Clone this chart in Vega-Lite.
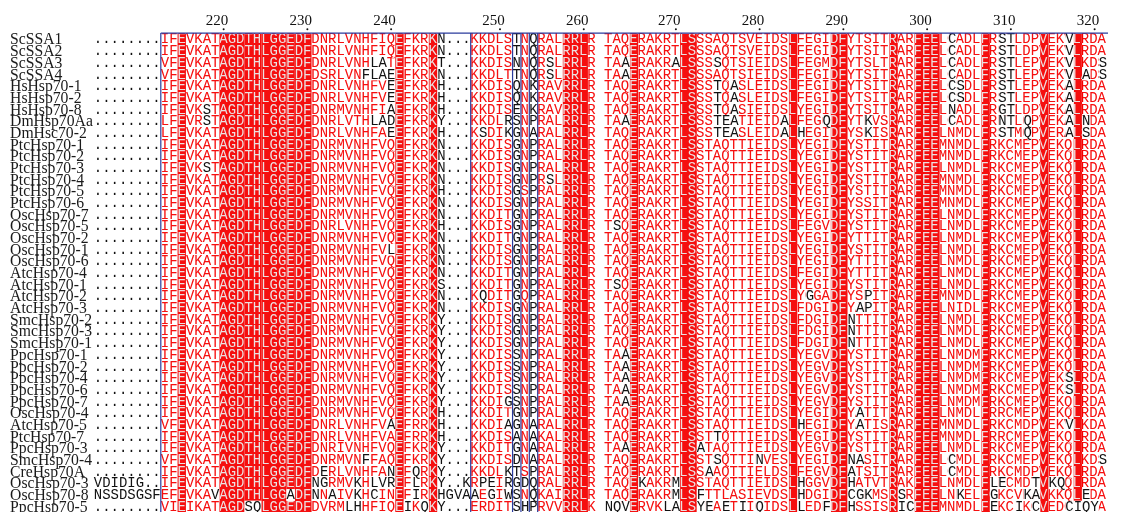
{
"$schema": "https://vega.github.io/schema/vega-lite/v6.json",
"width": 1122, "height": 512, "autosize": {"type": "none"}, "padding": 0,
"background": "white",
"config": {"view": {"stroke": null}},
"datasets": {
"rows": [
{"r":0,"name":"ScSSA1","pre":"........","seq":"IFEVKATAGDTHLGGEDFDNRLVNHFIQEFKRK\u00a0\u00a0\u00a0\u00a0KKDLS\u00a0N\u00a0RALRRLR\u00a0TAQERAKRTLSSSAQTSVEIDSLFEGIDFYTSITRARFEELCADLFRSTLDPVEKVLRDA","k":"N...\u00a0\u00a0\u00a0\u00a0\u00a0T\u00a0Q"},
{"r":1,"name":"ScSSA2","pre":"........","seq":"IFEVKATAGDTHLGGEDFDNRLVNHFIQEFKRK\u00a0\u00a0\u00a0\u00a0KKDLS\u00a0N\u00a0RALRRLR\u00a0TAQERAKRTLSSSAQTSVEIDSLFEGIDFYTSITRARFEELCADLFRSTLDPVEKVLRDA","k":"N...\u00a0\u00a0\u00a0\u00a0\u00a0T\u00a0Q"},
{"r":2,"name":"ScSSA3","pre":"........","seq":"VFEVKATAGDTHLGGEDFDNRLVNHLATEFKRK\u00a0\u00a0\u00a0\u00a0KKDIS\u00a0N\u00a0RSLRRLR\u00a0TAAERAKRALSSSSQTSIEIDSLFEGMDFYTSLTRARFEELCADLFRSTLEPVEKVLKDS","k":"T...\u00a0\u00a0\u00a0\u00a0\u00a0N\u00a0Q"},
{"r":3,"name":"ScSSA4","pre":"........","seq":"VFEVKATAGDTHLGGEDFDSRLVNFLAEEFKRK\u00a0\u00a0\u00a0\u00a0KKDLT\u00a0N\u00a0RSLRRLR\u00a0TAAERAKRTLSSSAQTSIEIDSLFEGIDFYTSITRARFEELCADLFRSTLEPVEKVLADS","k":"N...\u00a0\u00a0\u00a0\u00a0\u00a0T\u00a0Q"},
{"r":4,"name":"HsHsp70-1","pre":"........","seq":"IFEVKATAGDTHLGGEDFDNRLVNHFVEEFKRK\u00a0\u00a0\u00a0\u00a0KKDIS\u00a0N\u00a0RAVRRLR\u00a0TAQERAKRTLSSSTQASLEIDSLFEGIDFYTSITRARFEELCSDLFRSTLEPVEKALRDA","k":"H...\u00a0\u00a0\u00a0\u00a0\u00a0Q\u00a0K"},
{"r":5,"name":"HsHsp70-2","pre":"........","seq":"IFEVKATAGDTHLGGEDFDNRLVNHFVEEFKRK\u00a0\u00a0\u00a0\u00a0KKDIS\u00a0N\u00a0RAVRRLR\u00a0TAQERAKRTLSSSTQASLEIDSLFEGIDFYTSITRARFEELCSDLFRSTLEPVEKALRDA","k":"H...\u00a0\u00a0\u00a0\u00a0\u00a0Q\u00a0K"},
{"r":6,"name":"HsHsp70-8","pre":"........","seq":"IFEVKSTAGDTHLGGEDFDNRMVNHFIAEFKRK\u00a0\u00a0\u00a0\u00a0KKDIS\u00a0N\u00a0RAVRRLR\u00a0TAQERAKRTLSSSTQASIEIDSLYEGIDFYTSITRARFEELNADLFRGTLDPVEKALRDA","k":"H...\u00a0\u00a0\u00a0\u00a0\u00a0E\u00a0K"},
{"r":7,"name":"DmHsp70Aa","pre":"........","seq":"LFEVRSTAGDTHLGGEDFDNRLVTHLADEFKRK\u00a0\u00a0\u00a0\u00a0KKDLR\u00a0N\u00a0RALRRLR\u00a0TAAERAKRTLSSSTEATIEIDALFEGQDFYTKVSRARFEELCADLFRNTLQPVEKALNDA","k":"Y...\u00a0\u00a0\u00a0\u00a0\u00a0S\u00a0P"},
{"r":8,"name":"DmHsc70-2","pre":"........","seq":"LFEVKATAGDTHLGGEDFDNRLVNHFAEEFKRK\u00a0\u00a0\u00a0\u00a0KSDIK\u00a0N\u00a0RALRRLR\u00a0TAQERAKRTLSSSTEASLEIDALHEGIDFYSKISRARFEELNMDLFRSTMQPVERALSDA","k":"H...\u00a0\u00a0\u00a0\u00a0\u00a0G\u00a0A"},
{"r":9,"name":"PtcHsp70-1","pre":"........","seq":"IFEVKATAGDTHLGGEDFDNRMVNHFVQEFKRK\u00a0\u00a0\u00a0\u00a0KKDIS\u00a0N\u00a0RALRRLR\u00a0TAQERAKRTLSSTAQTTIEIDSLYEGIDFYSTITRARFEEMNMDLFRKCMEPVEKQLRDA","k":"N...\u00a0\u00a0\u00a0\u00a0\u00a0G\u00a0P"},
{"r":10,"name":"PtcHsp70-2","pre":"........","seq":"IFEVKATAGDTHLGGEDFDNRMVNHFVQEFKRK\u00a0\u00a0\u00a0\u00a0KKDIS\u00a0N\u00a0RALRRLR\u00a0TAQERAKRTLSSTAQTTIEIDSLYEGIDFYSTITRARFEEMNMDLFRKCMEPVEKQLRDA","k":"N...\u00a0\u00a0\u00a0\u00a0\u00a0G\u00a0P"},
{"r":11,"name":"PtcHsp70-3","pre":"........","seq":"IFEVKSTAGDTHLGGEDFDNRMVNHFVQEFKRK\u00a0\u00a0\u00a0\u00a0KKDIS\u00a0N\u00a0RALRRLR\u00a0TAQERAKRTLSSTAQTTIEIDSLYEGIDFYSTITRARFEELNMDLFRKCMEPVEKQLRDA","k":"N...\u00a0\u00a0\u00a0\u00a0\u00a0G\u00a0P"},
{"r":12,"name":"PtcHsp70-4","pre":"........","seq":"IFEVKATAGDTHLGGEDFDNRMVNHFVQEFKRK\u00a0\u00a0\u00a0\u00a0KKDIS\u00a0N\u00a0RSLRRLR\u00a0TAQERAKRTLSSTAQTTIEIDSLYEGIDFYSTITRARFEEMNMDLFRKCMEPVEKQLRDA","k":"N...\u00a0\u00a0\u00a0\u00a0\u00a0G\u00a0P"},
{"r":13,"name":"PtcHsp70-5","pre":"........","seq":"IFEVKATAGDTHLGGEDFDNRMVNHFVQEFKRK\u00a0\u00a0\u00a0\u00a0KKDIS\u00a0S\u00a0RALRRLR\u00a0TAQERAKRTLSSTAQTTIEIDSLYEGIDFYSTITRARFEEMNMDLFRKCMEPVEKQLRDA","k":"H...\u00a0\u00a0\u00a0\u00a0\u00a0G\u00a0P"},
{"r":14,"name":"PtcHsp70-6","pre":"........","seq":"IFEVKATAGDTHLGGEDFDNRMVNHFVQEFKRK\u00a0\u00a0\u00a0\u00a0KKDIS\u00a0N\u00a0RALRRLR\u00a0TAQERAKRTLSSTAQTTIEIDSLYEGIDFYSSITRARFEEMNMDLFRKCMEPVEKQLRDA","k":"N...\u00a0\u00a0\u00a0\u00a0\u00a0G\u00a0P"},
{"r":15,"name":"OscHsp70-7","pre":"........","seq":"IFEVKATAGDTHLGGEDFDNRMVNHFVQEFKRK\u00a0\u00a0\u00a0\u00a0KKDIT\u00a0N\u00a0RALRRLR\u00a0TAQERAKRTLSSTAQTTIEIDSLYEGIDFYSTITRARFEELNMDLFRKCMEPVEKQLRDA","k":"N...\u00a0\u00a0\u00a0\u00a0\u00a0G\u00a0P"},
{"r":16,"name":"OscHsp70-5","pre":"........","seq":"IFEVKATAGDTHLGGEDFDNRLVNHFVQEFKRK\u00a0\u00a0\u00a0\u00a0KKDIS\u00a0N\u00a0RALRRLR\u00a0TSQERAKRTLSSTAQTTIEIDSLFEGVDFYSTITRARFEELNMDLFRKCMEPVEKQLRDA","k":"H...\u00a0\u00a0\u00a0\u00a0\u00a0G\u00a0P"},
{"r":17,"name":"OscHsp70-2","pre":"........","seq":"IFEVKATAGDTHLGGEDFDNRMVNHFVQEFKRK\u00a0\u00a0\u00a0\u00a0KKDIT\u00a0N\u00a0RALRRLR\u00a0TAQERAKRTLSSTAQTTIEIDSLYEGIDFYTTITRARFEELNMDLFRKCMEPVEKQLRDA","k":"N...\u00a0\u00a0\u00a0\u00a0\u00a0G\u00a0P"},
{"r":18,"name":"OscHsp70-1","pre":"........","seq":"IFEVKATAGDTHLGGEDFDNRMVNHFVLEFKRK\u00a0\u00a0\u00a0\u00a0KKDIS\u00a0N\u00a0RALRRLR\u00a0TAQERAKRTLSSTAQTTIEIDSLYEGIDFYSTITRARFEELNMDLFRKCMEPVEKQLRDA","k":"N...\u00a0\u00a0\u00a0\u00a0\u00a0G\u00a0P"},
{"r":19,"name":"OscHsp70-6","pre":"........","seq":"IFEVKATAGDTHLGGEDFDNRMVNHFVQEFKRK\u00a0\u00a0\u00a0\u00a0KKDIS\u00a0N\u00a0RALRRLR\u00a0TAQERAKRTLSSTAQTTIEIDSLYEGIDFYTTITRARFEELNMDLFRKCMEPVEKQLRDA","k":"N...\u00a0\u00a0\u00a0\u00a0\u00a0G\u00a0P"},
{"r":20,"name":"AtcHsp70-4","pre":"........","seq":"IFEVKATAGDTHLGGEDFDNRMVNHFVQEFKRK\u00a0\u00a0\u00a0\u00a0KKDIT\u00a0N\u00a0RALRRLR\u00a0TAQERAKRTLSSTAQTTIEIDSLFEGIDFYTTITRARFEELNMDLFRKCMEPVEKQLRDA","k":"N...\u00a0\u00a0\u00a0\u00a0\u00a0G\u00a0P"},
{"r":21,"name":"AtcHsp70-1","pre":"........","seq":"IFEVKATAGDTHLGGEDFDNRMVNHFVQEFKRK\u00a0\u00a0\u00a0\u00a0KKDIT\u00a0N\u00a0RALRRLR\u00a0TSQERAKRTLSSTAQTTIEIDSLYEGIDFYSTITRARFEELNMDLFRKCMEPVEKQLRDA","k":"S...\u00a0\u00a0\u00a0\u00a0\u00a0G\u00a0P"},
{"r":22,"name":"AtcHsp70-2","pre":"........","seq":"IFEVKATAGDTHLGGEDFDNRMVNHFVQEFKRK\u00a0\u00a0\u00a0\u00a0KQDIT\u00a0Q\u00a0RALRRLR\u00a0TAQERAKRTLSSTAQTTIEIDSLYGGADFYSPITRARFEEMNMDLFRKCMEPVEKQLRDA","k":"N...\u00a0\u00a0\u00a0\u00a0\u00a0G\u00a0P"},
{"r":23,"name":"AtcHsp70-3","pre":"........","seq":"IFEVKATAGDTHLGGEDFDNRMVNHFVQEFKRK\u00a0\u00a0\u00a0\u00a0KKDIS\u00a0N\u00a0RALRRLR\u00a0TAQERAKRTLSSTAQTTIEIDSLFDGIDFYAPITRARFEELNIDLFRKCMEPVEKQLRDA","k":"N...\u00a0\u00a0\u00a0\u00a0\u00a0G\u00a0P"},
{"r":24,"name":"SmcHsp70-2","pre":"........","seq":"IFEVKATAGDTHLGGEDFDNRMVNHFVQEFKRK\u00a0\u00a0\u00a0\u00a0KKDIS\u00a0N\u00a0RALRRLR\u00a0TAQERAKRTLSSTAQTTIEIDSLFDGIDFNTTITRARFEELNMDLFRKCMEPVEKQLRDA","k":"Y...\u00a0\u00a0\u00a0\u00a0\u00a0G\u00a0P"},
{"r":25,"name":"SmcHsp70-3","pre":"........","seq":"IFEVKATAGDTHLGGEDFDNRMVNHFVQEFKRK\u00a0\u00a0\u00a0\u00a0KKDIS\u00a0N\u00a0RALRRLR\u00a0TAQERAKRTLSSTAQTTIEIDSLFDGIDFNTTITRARFEELNMDLFRKCMEPVEKQLRDA","k":"Y...\u00a0\u00a0\u00a0\u00a0\u00a0G\u00a0P"},
{"r":26,"name":"SmcHsp70-1","pre":"........","seq":"IFEVKATAGDTHLGGEDFDNRMVNHFVQEFKRK\u00a0\u00a0\u00a0\u00a0KKDIS\u00a0N\u00a0RALRRLR\u00a0TAQERAKRTLSSTAQTTIEIDSLFDGIDFNTTITRARFEELNMDLFRKCMEPVEKQLRDA","k":"Y...\u00a0\u00a0\u00a0\u00a0\u00a0G\u00a0P"},
{"r":27,"name":"PpcHsp70-1","pre":"........","seq":"IFEVKATAGDTHLGGEDFDNRMVNHFVQEFKRK\u00a0\u00a0\u00a0\u00a0KKDIS\u00a0N\u00a0RALRRLR\u00a0TAAERAKRTLSSTAQTTIEIDSLYEGVDFYSTITRARFEELNMDMFRKCMEPVEKQLRDA","k":"Y...\u00a0\u00a0\u00a0\u00a0\u00a0S\u00a0P"},
{"r":28,"name":"PpcHsp70-2","pre":"........","seq":"IFEVKATAGDTHLGGEDFDNRMVNHFVQEFKRK\u00a0\u00a0\u00a0\u00a0KKDIS\u00a0N\u00a0RALRRLR\u00a0TAAERAKRTLSSTAQTTIEIDSLYEGVDFYSTITRARFEELNMDMFRKCMEPVEKQLRDA","k":"Y...\u00a0\u00a0\u00a0\u00a0\u00a0S\u00a0P"},
{"r":29,"name":"PpcHsp70-4","pre":"........","seq":"IFEVKATAGDTHLGGEDFDNRMVNHFVQEFKRK\u00a0\u00a0\u00a0\u00a0KKDIS\u00a0N\u00a0RALRRLR\u00a0TAAERAKRTLSSTAQTTIEIDSLYEGVDFYSTITRARFEELNMDMFRKCMEPVEKSLRDA","k":"Y...\u00a0\u00a0\u00a0\u00a0\u00a0S\u00a0P"},
{"r":30,"name":"PpcHsp70-6","pre":"........","seq":"IFEVKATAGDTHLGGEDFDNRMVNHFVQEFKRK\u00a0\u00a0\u00a0\u00a0KKDIS\u00a0N\u00a0RALRRLR\u00a0TAAERAKRTLSSTAQTTIEIDSLYEGVDFYSTITRARFEELNMDMFRKCMEPVEKSLRDA","k":"Y...\u00a0\u00a0\u00a0\u00a0\u00a0S\u00a0P"},
{"r":31,"name":"PpcHsp70-7","pre":"........","seq":"IFEVKATAGDTHLGGEDFDNRMVNHFVQEFKRK\u00a0\u00a0\u00a0\u00a0KKDIG\u00a0N\u00a0RALRRLR\u00a0TAAERAKRTLSSTAQTTIEIDSLYEGVDFYSTITRARFEELNMDMFRKCMEPVEKQLRDA","k":"Y...\u00a0\u00a0\u00a0\u00a0\u00a0S\u00a0P"},
{"r":32,"name":"OscHsp70-4","pre":"........","seq":"IFEVKATAGDTHLGGEDFDNRMVNHFVQEFKRK\u00a0\u00a0\u00a0\u00a0KKDIT\u00a0N\u00a0RALRRLR\u00a0TAQERAKRTLSSTAQTTIEIDSLYEGIDFYATITRARFEELNMDLFRRCMEPVEKQLRDA","k":"H...\u00a0\u00a0\u00a0\u00a0\u00a0G\u00a0P"},
{"r":33,"name":"AtcHsp70-5","pre":"........","seq":"VFEVKATAGDTHLGGEDFDNRLVNHFVAEFRRK\u00a0\u00a0\u00a0\u00a0KKDIA\u00a0N\u00a0RALRRLR\u00a0TAQERAKRTLSSTAQTTIEIDSLHEGIDFYATISRARFEEMNMDLFRKCMDPVEKVLKDA","k":"H...\u00a0\u00a0\u00a0\u00a0\u00a0G\u00a0A"},
{"r":34,"name":"PtcHsp70-7","pre":"........","seq":"IFEVKATAGDTHLGGEDFDNRLVNHFVAEFRRK\u00a0\u00a0\u00a0\u00a0KKDIS\u00a0N\u00a0KALRRLR\u00a0TAQERAKRTLSSTTQTTIEIDSLYEGIDFYSTITRARFEEMNMDLFRRCMEPVEKQLRDA","k":"H...\u00a0\u00a0\u00a0\u00a0\u00a0A\u00a0A"},
{"r":35,"name":"PpcHsp70-3","pre":"........","seq":"IFEVKATAGDTHLGGEDFDNRIVNHFVQEFKRK\u00a0\u00a0\u00a0\u00a0KKDIT\u00a0N\u00a0RALRRLR\u00a0TAAERAKRTLSATAQTTIEIDSLYEGVDFYSTITRARFEELNMDLFRKCMEPVEKQLRDA","k":"Y...\u00a0\u00a0\u00a0\u00a0\u00a0G\u00a0A"},
{"r":36,"name":"SmcHsp70-4","pre":"........","seq":"VFEVKATAGDTHLGGEDFDNRMVNFFAQEFKRK\u00a0\u00a0\u00a0\u00a0KKDIS\u00a0N\u00a0RALRRLR\u00a0TAQERAKRTLSSTSQTTINVESLYEGIDFNASITRARFEELCMDLFRKCMEPVEKQLKDS","k":"Y...\u00a0\u00a0\u00a0\u00a0\u00a0D\u00a0A"},
{"r":37,"name":"CreHsp70A","pre":"........","seq":"IFEVKATAGDTHLGGEDFDERLVNHFANEFQRK\u00a0\u00a0\u00a0\u00a0KKDLK\u00a0S\u00a0RALRRLR\u00a0TAQERAKRTLSSAAQTTIELDSLFEGVDFATSITRARFEELCMDLFRKCMDPVEKQLRDA","k":"Y...\u00a0\u00a0\u00a0\u00a0\u00a0T\u00a0P"},
{"r":38,"name":"OscHsp70-3","pre":"VDIDIG..","seq":"IFEVKATAGDTHLGGEDFNGRMVKHLVREFLRK\u00a0\u00a0\u00a0\u00a0RPEIR\u00a0D\u00a0RALRRLR\u00a0TAQEKAKRMLSSTAQTTIEIDSLHGGVDFHATVTRAKFEELNMDLFLECMDTVKQQLRDA","k":"Y..K\u00a0\u00a0\u00a0\u00a0\u00a0G\u00a0Q"},
{"r":39,"name":"OscHsp70-8","pre":"NSSDSGSF","seq":"EFEVKAVAGDTHLGGADFNNAIVKHCINEFIRK\u00a0\u00a0\u00a0\u00a0AEGIW\u00a0N\u00a0KAIRRLR\u00a0TAQERAKRMLSFTTLASIEVDSLHDGIDFCGKMSRSRFEELNKELFGKCVKAVKKQLEDA","k":"HGVA\u00a0\u00a0\u00a0\u00a0\u00a0S\u00a0Q"},
{"r":40,"name":"PpcHsp70-5","pre":"........","seq":"VIEIKATAGDSQLGGEDFDVRMLHHFIQEIKQK\u00a0\u00a0\u00a0\u00a0ERDIT\u00a0H\u00a0RVVRRLK\u00a0NQVERVKLALSYEAETIIQIDSLLEDFDFHSSISRICFEEMNMDLFEKCIKCVEDCIQYA","k":"Y...\u00a0\u00a0\u00a0\u00a0\u00a0S\u00a0P"}
],
"bg": [
{"c0":2,"c1":2,"r0":0,"r1":40},{"c0":7,"c1":9,"r0":0,"r1":40},{"c0":10,"c1":11,"r0":0,"r1":39},{"c0":12,"c1":14,"r0":0,"r1":40},
{"c0":15,"c1":15,"r0":0,"r1":38},{"c0":15,"c1":15,"r0":40,"r1":40},{"c0":16,"c1":17,"r0":0,"r1":40},{"c0":28,"c1":28,"r0":0,"r1":40},
{"c0":32,"c1":32,"r0":0,"r1":40},{"c0":48,"c1":50,"r0":0,"r1":40},{"c0":56,"c1":56,"r0":0,"r1":40},{"c0":62,"c1":63,"r0":0,"r1":40},
{"c0":75,"c1":75,"r0":0,"r1":40},{"c0":80,"c1":81,"r0":0,"r1":40},{"c0":87,"c1":87,"r0":0,"r1":40},{"c0":90,"c1":92,"r0":0,"r1":40},
{"c0":98,"c1":98,"r0":0,"r1":40},{"c0":105,"c1":105,"r0":0,"r1":40},{"c0":109,"c1":109,"r0":0,"r1":39}
],
"cells": [
{"r":0,"c":94,"t":"C"},{"r":0,"c":100,"t":"S"},{"r":0,"c":101,"t":"T"},{"r":0,"c":108,"t":"V"},
{"r":1,"c":94,"t":"C"},{"r":1,"c":100,"t":"S"},{"r":1,"c":101,"t":"T"},{"r":1,"c":108,"t":"V"},
{"r":2,"c":25,"t":"L"},{"r":2,"c":26,"t":"A"},{"r":2,"c":46,"t":"S"},{"r":2,"c":55,"t":"A"},{"r":2,"c":61,"t":"A"},{"r":2,"c":66,"t":"S"},{"r":2,"c":94,"t":"C"},{"r":2,"c":100,"t":"S"},{"r":2,"c":101,"t":"T"},{"r":2,"c":108,"t":"V"},{"r":2,"c":112,"t":"S"},
{"r":3,"c":24,"t":"F"},{"r":3,"c":25,"t":"L"},{"r":3,"c":26,"t":"A"},{"r":3,"c":27,"t":"E"},{"r":3,"c":46,"t":"S"},{"r":3,"c":55,"t":"A"},{"r":3,"c":94,"t":"C"},{"r":3,"c":100,"t":"S"},{"r":3,"c":101,"t":"T"},{"r":3,"c":108,"t":"V"},{"r":3,"c":110,"t":"A"},{"r":3,"c":112,"t":"S"},
{"r":4,"c":27,"t":"E"},{"r":4,"c":66,"t":"T"},{"r":4,"c":68,"t":"A"},{"r":4,"c":94,"t":"C"},{"r":4,"c":95,"t":"S"},{"r":4,"c":100,"t":"S"},{"r":4,"c":101,"t":"T"},{"r":4,"c":108,"t":"A"},
{"r":5,"c":27,"t":"E"},{"r":5,"c":66,"t":"T"},{"r":5,"c":68,"t":"A"},{"r":5,"c":94,"t":"C"},{"r":5,"c":95,"t":"S"},{"r":5,"c":100,"t":"S"},{"r":5,"c":101,"t":"T"},{"r":5,"c":108,"t":"A"},
{"r":6,"c":5,"t":"S"},{"r":6,"c":27,"t":"A"},{"r":6,"c":66,"t":"T"},{"r":6,"c":68,"t":"A"},{"r":6,"c":94,"t":"N"},{"r":6,"c":100,"t":"G"},{"r":6,"c":101,"t":"T"},{"r":6,"c":108,"t":"A"},
{"r":7,"c":5,"t":"S"},{"r":7,"c":25,"t":"L"},{"r":7,"c":26,"t":"A"},{"r":7,"c":27,"t":"D"},{"r":7,"c":41,"t":"R"},{"r":7,"c":55,"t":"A"},{"r":7,"c":66,"t":"T"},{"r":7,"c":67,"t":"E"},{"r":7,"c":68,"t":"A"},{"r":7,"c":74,"t":"A"},{"r":7,"c":79,"t":"Q"},{"r":7,"c":84,"t":"K"},{"r":7,"c":94,"t":"C"},{"r":7,"c":100,"t":"N"},{"r":7,"c":101,"t":"T"},{"r":7,"c":103,"t":"Q"},{"r":7,"c":108,"t":"A"},{"r":7,"c":110,"t":"N"},
{"r":8,"c":27,"t":"E"},{"r":8,"c":38,"t":"S"},{"r":8,"c":41,"t":"K"},{"r":8,"c":66,"t":"T"},{"r":8,"c":67,"t":"E"},{"r":8,"c":68,"t":"A"},{"r":8,"c":74,"t":"A"},{"r":8,"c":76,"t":"H"},{"r":8,"c":84,"t":"K"},{"r":8,"c":100,"t":"S"},{"r":8,"c":101,"t":"T"},{"r":8,"c":103,"t":"Q"},{"r":8,"c":108,"t":"A"},{"r":8,"c":110,"t":"S"},
{"r":11,"c":5,"t":"S"},{"r":12,"c":46,"t":"S"},{"r":16,"c":54,"t":"S"},{"r":18,"c":27,"t":"L"},{"r":21,"c":54,"t":"S"},
{"r":22,"c":38,"t":"Q"},{"r":22,"c":77,"t":"G"},{"r":22,"c":84,"t":"P"},
{"r":23,"c":83,"t":"A"},{"r":23,"c":84,"t":"P"},
{"r":24,"c":82,"t":"N"},{"r":25,"c":82,"t":"N"},{"r":26,"c":82,"t":"N"},
{"r":27,"c":55,"t":"A"},{"r":28,"c":55,"t":"A"},{"r":29,"c":55,"t":"A"},{"r":29,"c":108,"t":"S"},{"r":30,"c":55,"t":"A"},{"r":30,"c":108,"t":"S"},
{"r":31,"c":41,"t":"G"},{"r":31,"c":55,"t":"A"},{"r":32,"c":83,"t":"A"},
{"r":33,"c":27,"t":"A"},{"r":33,"c":41,"t":"A"},{"r":33,"c":76,"t":"H"},{"r":33,"c":83,"t":"A"},{"r":33,"c":108,"t":"V"},
{"r":34,"c":66,"t":"T"},{"r":35,"c":55,"t":"A"},{"r":35,"c":64,"t":"A"},
{"r":36,"c":24,"t":"F"},{"r":36,"c":66,"t":"S"},{"r":36,"c":71,"t":"N"},{"r":36,"c":82,"t":"N"},{"r":36,"c":83,"t":"A"},{"r":36,"c":94,"t":"C"},{"r":36,"c":112,"t":"S"},
{"r":37,"c":19,"t":"E"},{"r":37,"c":27,"t":"N"},{"r":37,"c":30,"t":"Q"},{"r":37,"c":41,"t":"K"},{"r":37,"c":65,"t":"A"},{"r":37,"c":82,"t":"A"},{"r":37,"c":94,"t":"C"},
{"r":38,"c":18,"t":"N"},{"r":38,"c":19,"t":"G"},{"r":38,"c":23,"t":"K"},{"r":38,"c":25,"t":"L"},{"r":38,"c":26,"t":"V"},{"r":38,"c":27,"t":"R"},{"r":38,"c":30,"t":"L"},{"r":38,"c":38,"t":"P"},{"r":38,"c":39,"t":"E"},{"r":38,"c":41,"t":"R"},{"r":38,"c":43,"t":"D"},{"r":38,"c":57,"t":"K"},{"r":38,"c":61,"t":"M"},{"r":38,"c":76,"t":"H"},{"r":38,"c":82,"t":"H"},{"r":38,"c":99,"t":"L"},{"r":38,"c":100,"t":"E"},{"r":38,"c":104,"t":"T"},{"r":38,"c":106,"t":"K"},{"r":38,"c":107,"t":"Q"},
{"r":39,"c":6,"t":"V"},{"r":39,"c":15,"t":"A"},{"r":39,"c":18,"t":"N"},{"r":39,"c":20,"t":"A"},{"r":39,"c":23,"t":"K"},{"r":39,"c":25,"t":"C"},{"r":39,"c":30,"t":"I"},{"r":39,"c":37,"t":"A"},{"r":39,"c":39,"t":"G"},{"r":39,"c":41,"t":"W"},{"r":39,"c":61,"t":"M"},{"r":39,"c":64,"t":"F"},{"r":39,"c":76,"t":"H"},{"r":39,"c":82,"t":"C"},{"r":39,"c":83,"t":"G"},{"r":39,"c":84,"t":"K"},{"r":39,"c":88,"t":"S"},{"r":39,"c":95,"t":"K"},{"r":39,"c":99,"t":"G"},{"r":39,"c":103,"t":"K"},{"r":39,"c":104,"t":"A"},{"r":39,"c":110,"t":"E"},
{"r":40,"c":10,"t":"S"},{"r":40,"c":11,"t":"Q"},{"r":40,"c":22,"t":"L"},{"r":40,"c":23,"t":"H"},{"r":40,"c":29,"t":"I"},{"r":40,"c":31,"t":"Q"},{"r":40,"c":43,"t":"H"},{"r":40,"c":53,"t":"N"},{"r":40,"c":54,"t":"Q"},{"r":40,"c":55,"t":"V"},{"r":40,"c":60,"t":"L"},{"r":40,"c":61,"t":"A"},{"r":40,"c":64,"t":"Y"},{"r":40,"c":65,"t":"E"},{"r":40,"c":67,"t":"E"},{"r":40,"c":69,"t":"I"},{"r":40,"c":71,"t":"Q"},{"r":40,"c":76,"t":"L"},{"r":40,"c":79,"t":"F"},{"r":40,"c":82,"t":"H"},{"r":40,"c":88,"t":"I"},{"r":40,"c":89,"t":"C"},{"r":40,"c":99,"t":"E"},{"r":40,"c":102,"t":"I"},{"r":40,"c":104,"t":"C"},{"r":40,"c":108,"t":"C"},{"r":40,"c":109,"t":"I"},{"r":40,"c":110,"t":"Q"},{"r":40,"c":111,"t":"Y"}
],
"ticks": [
{"c":7,"n":"220"},{"c":17,"n":"230"},{"c":27,"n":"240"},{"c":40,"n":"250"},{"c":50,"n":"260"},{"c":61,"n":"270"},{"c":71,"n":"280"},{"c":81,"n":"290"},{"c":91,"n":"300"},{"c":101,"n":"310"},{"c":111,"n":"320"}
],
"vlines": [{"c":-0.5},{"c":36.5},{"c":41.5},{"c":42.5},{"c":43.5},{"c":44.5}],
"hlines": [{"c0":-0.5,"c1":112.6}]
},
"layer": [
{"data":{"name":"bg"},
 "mark":{"type":"rect","color":"#f50f0f","xOffset":-4.1875,"x2Offset":4.1875,"yOffset":-5.84,"y2Offset":5.84},
 "encoding":{
  "x":{"field":"c0","type":"quantitative","scale":{"domain":[-19.7015,114.2687],"nice":false,"zero":false},"axis":null},
  "x2":{"field":"c1"},
  "y":{"field":"r0","type":"quantitative","scale":{"domain":[-3.3818,40.4538],"nice":false,"zero":false,"reverse":true},"axis":null},
  "y2":{"field":"r1"}}},
{"data":{"name":"rows"},
 "mark":{"type":"text","align":"left","baseline":"middle","font":"Liberation Mono","fontSize":13.956,"color":"#0af0f0","blend":"difference"},
 "encoding":{
  "x":{"datum":-0.5,"type":"quantitative","scale":{"domain":[-19.7015,114.2687],"nice":false,"zero":false},"axis":null},
  "y":{"field":"r","type":"quantitative","scale":{"domain":[-3.3818,40.4538],"nice":false,"zero":false,"reverse":true},"axis":null},
  "text":{"field":"seq"}}},
{"data":{"name":"cells"},
 "mark":{"type":"point","shape":"M-0.5,-0.6974L0.5,-0.6974L0.5,0.6974L-0.5,0.6974Z","size":280.56,"filled":true,"color":"white","opacity":1,"strokeWidth":0},
 "encoding":{
  "x":{"field":"c","type":"quantitative","scale":{"domain":[-19.7015,114.2687],"nice":false,"zero":false},"axis":null},
  "y":{"field":"r","type":"quantitative","scale":{"domain":[-3.3818,40.4538],"nice":false,"zero":false,"reverse":true},"axis":null}}},
{"data":{"name":"cells"},
 "mark":{"type":"text","align":"center","baseline":"middle","font":"Liberation Mono","fontSize":13.956,"color":"#111111"},
 "encoding":{
  "x":{"field":"c","type":"quantitative","scale":{"domain":[-19.7015,114.2687],"nice":false,"zero":false},"axis":null},
  "y":{"field":"r","type":"quantitative","scale":{"domain":[-3.3818,40.4538],"nice":false,"zero":false,"reverse":true},"axis":null},
  "text":{"field":"t"}}},
{"data":{"name":"rows"},
 "mark":{"type":"text","align":"left","baseline":"middle","font":"Liberation Mono","fontSize":13.956,"color":"#111111"},
 "encoding":{
  "x":{"datum":32.5,"type":"quantitative","scale":{"domain":[-19.7015,114.2687],"nice":false,"zero":false},"axis":null},
  "y":{"field":"r","type":"quantitative","scale":{"domain":[-3.3818,40.4538],"nice":false,"zero":false,"reverse":true},"axis":null},
  "text":{"field":"k"}}},
{"data":{"name":"rows"},
 "mark":{"type":"text","align":"left","baseline":"middle","font":"Liberation Mono","fontSize":13.956,"color":"#111111"},
 "encoding":{
  "x":{"datum":-8.5,"type":"quantitative","scale":{"domain":[-19.7015,114.2687],"nice":false,"zero":false},"axis":null},
  "y":{"field":"r","type":"quantitative","scale":{"domain":[-3.3818,40.4538],"nice":false,"zero":false,"reverse":true},"axis":null},
  "text":{"field":"pre"}}},
{"data":{"name":"rows"},
 "mark":{"type":"text","align":"left","baseline":"middle","font":"Liberation Serif","fontSize":15.7,"color":"#1a1a1a"},
 "encoding":{
  "x":{"datum":-18.5,"type":"quantitative","scale":{"domain":[-19.7015,114.2687],"nice":false,"zero":false},"axis":null},
  "y":{"field":"r","type":"quantitative","scale":{"domain":[-3.3818,40.4538],"nice":false,"zero":false,"reverse":true},"axis":null},
  "text":{"field":"name"}}},
{"data":{"name":"ticks"},
 "mark":{"type":"text","align":"center","baseline":"middle","font":"Liberation Serif","fontSize":15,"color":"#111111","dx":-6.5},
 "encoding":{
  "x":{"field":"c","type":"quantitative","scale":{"domain":[-19.7015,114.2687],"nice":false,"zero":false},"axis":null},
  "y":{"datum":-1.67,"type":"quantitative","scale":{"domain":[-3.3818,40.4538],"nice":false,"zero":false,"reverse":true},"axis":null},
  "text":{"field":"n"}}},
{"data":{"name":"ticks"},
 "mark":{"type":"point","filled":true,"color":"#111111","size":4,"opacity":1},
 "encoding":{
  "x":{"field":"c","type":"quantitative","scale":{"domain":[-19.7015,114.2687],"nice":false,"zero":false},"axis":null},
  "y":{"datum":-0.87,"type":"quantitative","scale":{"domain":[-3.3818,40.4538],"nice":false,"zero":false,"reverse":true},"axis":null}}},
{"data":{"name":"vlines"},
 "mark":{"type":"rule","color":"#2a3b9c","strokeWidth":1.2},
 "encoding":{
  "x":{"field":"c","type":"quantitative","scale":{"domain":[-19.7015,114.2687],"nice":false,"zero":false},"axis":null},
  "y":{"datum":-0.55,"type":"quantitative","scale":{"domain":[-3.3818,40.4538],"nice":false,"zero":false,"reverse":true},"axis":null},
  "y2":{"datum":41}}},
{"data":{"name":"hlines"},
 "mark":{"type":"rule","color":"#2a3b9c","strokeWidth":1.2},
 "encoding":{
  "x":{"field":"c0","type":"quantitative","scale":{"domain":[-19.7015,114.2687],"nice":false,"zero":false},"axis":null},
  "x2":{"field":"c1"},
  "y":{"datum":-0.55,"type":"quantitative","scale":{"domain":[-3.3818,40.4538],"nice":false,"zero":false,"reverse":true},"axis":null}}}
]
}
